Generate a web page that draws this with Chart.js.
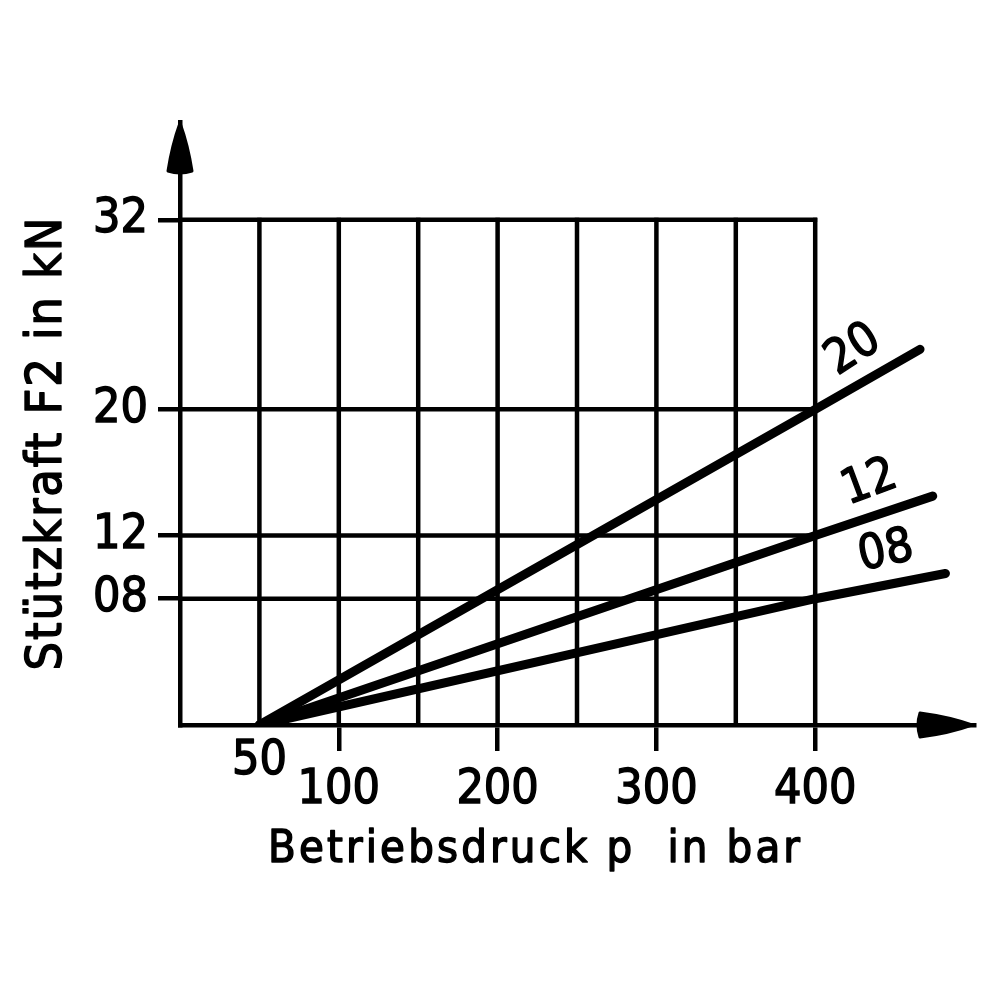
<!DOCTYPE html>
<html>
<head>
<meta charset="utf-8">
<script src="https://cdn.jsdelivr.net/npm/chart.js@4.4.1/dist/chart.umd.min.js"></script>
<style>
  html, body { margin: 0; padding: 0; background: #fff; }
  #wrap { width: 1000px; height: 1000px; position: relative; }
</style>
</head>
<body>
<div id="wrap"><canvas id="chart"></canvas></div>
<script>
// values (x = bar, y = kN)
const seriesNames = ['20', '12', '08'];
const pressure20 = [50, 400, 466];
const force20 = [0, 20, 23.8];
const pressure12 = [50, 400, 474];
const force12 = [0, 12, 14.5];
const pressure08 = [50, 400, 482];
const force08 = [0, 8, 9.6];

const gridX = [50, 100, 150, 200, 250, 300, 350, 400];
const gridY = [8, 12, 20, 32];
const xTicks = [100, 200, 300, 400];
const yTicks = [8, 12, 20, 32];
const yTickLabels = ['08', '12', '20', '32'];
const firstXLabel = '50';
const xTitle = 'Betriebsdruck p  in bar';
const yTitle = 'Stützkraft F2 in kN';

const FONT = "'Liberation Sans Narrow', 'DejaVu Sans Condensed', 'Liberation Sans', sans-serif";
const INK = '#000';

function points(xs, ys) {
  return xs.map((x, i) => ({ x, y: ys[i] }));
}

const lines = [
  points(pressure20, force20),
  points(pressure12, force12),
  points(pressure08, force08)
];

// fill + thin stroke so the lettering looks as heavy as the drawing
function inkText(ctx, text, x, y) {
  ctx.fillText(text, x, y);
  ctx.strokeText(text, x, y);
}

function spacedText(ctx, text, x, y, width) {
  ctx.letterSpacing = '0px';
  const plain = ctx.measureText(text).width;
  const gap = Math.max(0, (width - plain) / (text.length - 1));
  ctx.letterSpacing = gap + 'px';
  ctx.textAlign = 'left';
  inkText(ctx, text, x - width / 2, y);
  ctx.letterSpacing = '0px';
}

const drawing = {
  id: 'drawing',
  beforeDatasetsDraw(chart) {
    const { ctx } = chart;
    const xs = chart.scales.x;
    const ys = chart.scales.y;
    const top = ys.getPixelForValue(Math.max(...gridY));
    const bottom = ys.getPixelForValue(0);
    const left = xs.getPixelForValue(0);
    const right = xs.getPixelForValue(Math.max(...gridX));
    ctx.save();
    ctx.strokeStyle = INK;
    ctx.lineWidth = 4.5;
    ctx.lineCap = 'butt';
    gridX.forEach(v => {
      const px = xs.getPixelForValue(v);
      ctx.beginPath();
      ctx.moveTo(px, top - 2);
      ctx.lineTo(px, bottom);
      ctx.stroke();
    });
    gridY.forEach(v => {
      const py = ys.getPixelForValue(v);
      ctx.beginPath();
      ctx.moveTo(left, py);
      ctx.lineTo(right + 2, py);
      ctx.stroke();
    });
    ctx.restore();
  },
  afterDraw(chart) {
    const { ctx, chartArea } = chart;
    const xs = chart.scales.x;
    const ys = chart.scales.y;
    const ox = xs.getPixelForValue(0);
    const oy = ys.getPixelForValue(0);
    ctx.save();
    ctx.fillStyle = INK;
    ctx.strokeStyle = INK;
    ctx.lineJoin = 'round';
    ctx.lineWidth = 3;

    // arrow heads
    const t = chartArea.top + 1;
    ctx.beginPath();
    ctx.moveTo(ox, t);
    ctx.quadraticCurveTo(ox + 8, t + 22, ox + 12, t + 48);
    ctx.quadraticCurveTo(ox, t + 52, ox - 12, t + 48);
    ctx.quadraticCurveTo(ox - 8, t + 22, ox, t);
    ctx.fill();
    ctx.stroke();

    const r = chartArea.right - 2;
    ctx.beginPath();
    ctx.moveTo(r, oy);
    ctx.quadraticCurveTo(r - 22, oy - 8, r - 52, oy - 12);
    ctx.quadraticCurveTo(r - 56, oy, r - 52, oy + 12);
    ctx.quadraticCurveTo(r - 22, oy + 8, r, oy);
    ctx.fill();
    ctx.stroke();

    ctx.lineWidth = 1.4;

    // "50" sits higher than the other x labels
    ctx.font = '48px ' + FONT;
    ctx.textAlign = 'center';
    ctx.textBaseline = 'middle';
    inkText(ctx, firstXLabel, xs.getPixelForValue(50), oy + 37);

    // curve names along the line ends
    chart.getSortedVisibleDatasetMetas().forEach((meta, i) => {
      const pts = meta.data;
      const a = pts[pts.length - 2];
      const b = pts[pts.length - 1];
      const ang = Math.atan2(b.y - a.y, b.x - a.x);
      const dx = Math.cos(ang), dy = Math.sin(ang);
      const back = 52 - ang * 12;
      const up = 32;
      const cx = b.x - dx * back + dy * up;
      const cy = b.y - dy * back - dx * up;
      ctx.save();
      ctx.translate(cx, cy);
      ctx.rotate(ang * 1.1);
      ctx.textAlign = 'center';
      ctx.textBaseline = 'middle';
      inkText(ctx, seriesNames[i], 0, 0);
      ctx.restore();
    });

    // axis titles
    ctx.textBaseline = 'middle';
    ctx.font = '45px ' + FONT;
    spacedText(ctx, xTitle, 534, 850, 532);

    ctx.save();
    ctx.translate(48, 444);
    ctx.rotate(-Math.PI / 2);
    ctx.font = '50px ' + FONT;
    spacedText(ctx, yTitle, 0, 0, 453);
    ctx.restore();

    ctx.restore();
  }
};

const tickFont = { family: FONT, size: 48 };

new Chart(document.getElementById('chart'), {
  type: 'line',
  data: {
    datasets: lines.map((data, i) => ({
      label: seriesNames[i],
      data,
      borderColor: INK,
      borderWidth: 9,
      borderCapStyle: 'round',
      pointRadius: 0,
      fill: false,
      tension: 0
    }))
  },
  options: {
    responsive: true,
    maintainAspectRatio: false,
    animation: false,
    layout: { padding: { top: 122, right: 26, left: 0, bottom: 0 } },
    plugins: {
      legend: { display: false },
      tooltip: { enabled: false }
    },
    scales: {
      x: {
        type: 'linear',
        min: 0,
        max: 500,
        afterBuildTicks: s => { s.ticks = xTicks.map(v => ({ value: v })); },
        afterFit: s => { s.height = 275; },
        grid: { drawOnChartArea: false, drawTicks: true, tickLength: 26, color: INK, lineWidth: 4.5 },
        border: { display: true, color: INK, width: 4.5 },
        ticks: {
          color: INK,
          font: tickFont,
          textStrokeColor: INK,
          textStrokeWidth: 1.4,
          padding: 11,
          maxRotation: 0,
          autoSkip: false,
          callback: v => String(v)
        }
      },
      y: {
        type: 'linear',
        min: 0,
        max: 38.2,
        afterBuildTicks: s => { s.ticks = yTicks.map(v => ({ value: v })); },
        afterFit: s => { s.width = 180; },
        grid: { drawOnChartArea: false, drawTicks: true, tickLength: 22, color: INK, lineWidth: 4.5 },
        border: { display: true, color: INK, width: 4.5 },
        ticks: {
          color: INK,
          font: tickFont,
          textStrokeColor: INK,
          textStrokeWidth: 1.4,
          padding: 10,
          autoSkip: false,
          callback: v => yTickLabels[yTicks.indexOf(v)]
        }
      }
    }
  },
  plugins: [drawing]
});
</script>
</body>
</html>
